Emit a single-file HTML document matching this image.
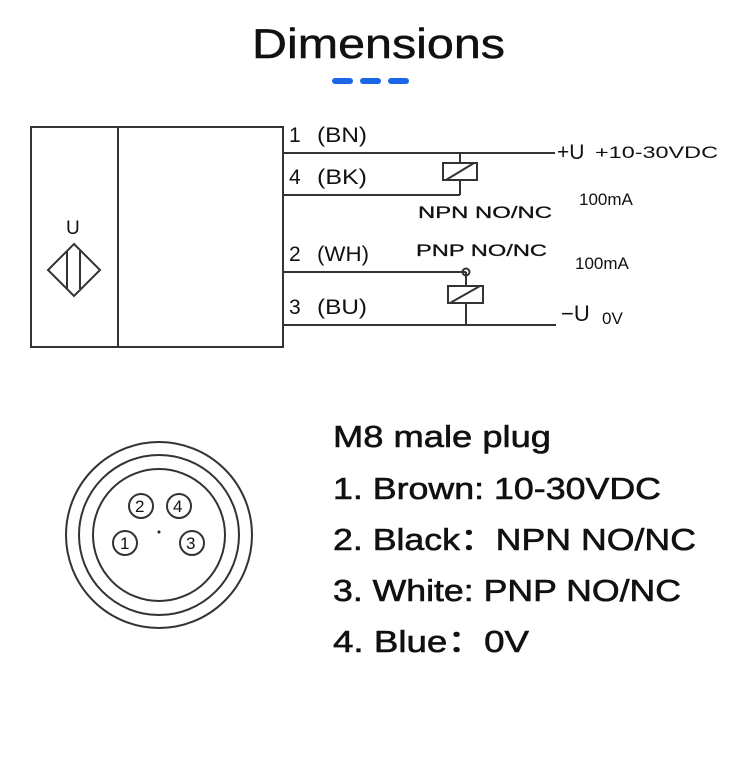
<!DOCTYPE html>
<html><head><meta charset="utf-8"><style>
html,body{margin:0;padding:0;background:#fff;}
svg{display:block;}
text{font-family:"Liberation Sans","Noto Sans CJK SC",sans-serif;fill:#111;}
</style></head><body>
<svg width="750" height="783" viewBox="0 0 750 783" xmlns="http://www.w3.org/2000/svg">
<rect width="750" height="783" fill="#fff"/>
<text x="252" y="58" font-size="42" textLength="253" lengthAdjust="spacingAndGlyphs" stroke="#111" stroke-width="0.5">Dimensions</text>
<g fill="#1a66e6">
<rect x="332" y="78" width="21" height="6" rx="3"/>
<rect x="360" y="78" width="21" height="6" rx="3"/>
<rect x="388" y="78" width="21" height="6" rx="3"/>
</g>
<g stroke="#333" stroke-width="2" fill="none">
<rect x="31" y="127" width="252" height="220"/>
<line x1="118" y1="127" x2="118" y2="347"/>
<polygon points="74,244 100,270 74,296 48,270"/>
<line x1="67" y1="251" x2="67" y2="289"/>
<line x1="80" y1="251" x2="80" y2="289"/>
<line x1="283" y1="153" x2="555" y2="153"/>
<line x1="283" y1="195" x2="460" y2="195"/>
<line x1="283" y1="272" x2="466" y2="272"/>
<line x1="283" y1="325" x2="556" y2="325"/>
<line x1="460" y1="153" x2="460" y2="163"/>
<line x1="460" y1="180" x2="460" y2="195"/>
<rect x="443" y="163" width="34" height="17"/>
<line x1="446" y1="180" x2="474" y2="163"/>
<line x1="466" y1="272" x2="466" y2="286"/>
<line x1="466" y1="303" x2="466" y2="325"/>
<rect x="448" y="286" width="35" height="17"/>
<line x1="450" y1="303" x2="480" y2="286"/>
<circle cx="466" cy="272" r="3.5"/>
<circle cx="159" cy="535" r="93"/>
<circle cx="159" cy="535" r="80"/>
<circle cx="159" cy="535" r="66"/>
<circle cx="141" cy="506" r="12"/>
<circle cx="179" cy="506" r="12"/>
<circle cx="125" cy="543" r="12"/>
<circle cx="192" cy="543" r="12"/>
</g>
<circle cx="159" cy="532" r="1.5" fill="#222"/>
<g fill="#222" font-size="17">
<text x="135" y="512">2</text>
<text x="173" y="512">4</text>
<text x="120" y="549">1</text>
<text x="186" y="549">3</text>
</g>
<g font-size="21" fill="#222">
<text x="66" y="234" font-size="19">U</text>
<text x="289" y="142">1</text><text x="317" y="142" textLength="50" lengthAdjust="spacingAndGlyphs">(BN)</text>
<text x="289" y="184">4</text><text x="317" y="184" textLength="50" lengthAdjust="spacingAndGlyphs">(BK)</text>
<text x="289" y="261">2</text><text x="317" y="261" textLength="52" lengthAdjust="spacingAndGlyphs">(WH)</text>
<text x="289" y="314">3</text><text x="317" y="314" textLength="50" lengthAdjust="spacingAndGlyphs">(BU)</text>
</g>
<g font-size="17">
<text x="557" y="159" font-size="21">+U</text>
<text x="595" y="158" textLength="123" lengthAdjust="spacingAndGlyphs">+10-30VDC</text>
<text x="579" y="205">100mA</text>
<text x="418" y="218" textLength="134" lengthAdjust="spacingAndGlyphs" stroke="#111" stroke-width="0.3">NPN NO/NC</text>
<text x="416" y="256" textLength="131" lengthAdjust="spacingAndGlyphs" stroke="#111" stroke-width="0.3">PNP NO/NC</text>
<text x="575" y="269">100mA</text>
<text x="561" y="321" font-size="22">−U</text>
<text x="602" y="324">0V</text>
</g>
<g font-size="31" stroke="#111" stroke-width="0.6">
<text x="333" y="447" textLength="218" lengthAdjust="spacingAndGlyphs">M8 male plug</text>
<text x="333" y="499" textLength="328" lengthAdjust="spacingAndGlyphs">1.  Brown: 10-30VDC</text>
<text x="333" y="550" textLength="363" lengthAdjust="spacingAndGlyphs">2.  Black：NPN NO/NC</text>
<text x="333" y="601" textLength="348" lengthAdjust="spacingAndGlyphs">3.  White: PNP NO/NC</text>
<text x="333" y="652" textLength="196" lengthAdjust="spacingAndGlyphs">4.  Blue：0V</text>
</g>
</svg>
</body></html>
